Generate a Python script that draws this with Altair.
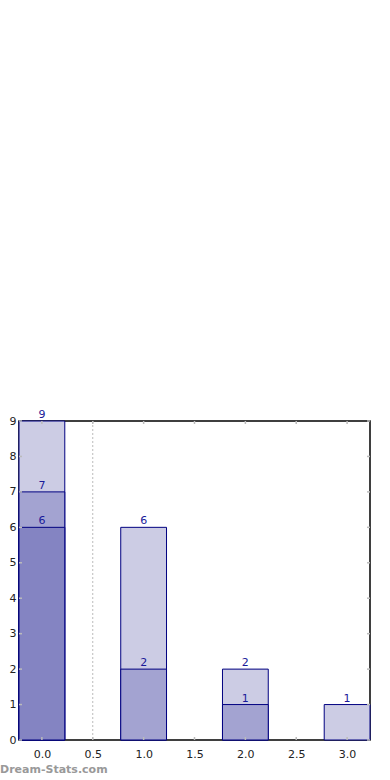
import altair as alt
import pandas as pd

positions = [0, 1, 2, 3]
light_vals = [9, 6, 2, 1]
medium_vals = [7, 2, 1, None]
dark_vals = [6, None, None, None]

rows = []
for lvl, vals in enumerate([light_vals, medium_vals, dark_vals]):
    for p, v in zip(positions, vals):
        if v is not None:
            rows.append({"pos": p, "value": v, "level": lvl})
df = pd.DataFrame(rows)

x_ticks = [0, 0.5, 1, 1.5, 2, 2.5, 3]
y_ticks = list(range(10))

W, H = 351, 319
FONT = "DejaVu Sans"
xscale = alt.Scale(domain=[-0.225, 3.225], nice=False, zero=False)
yscale = alt.Scale(domain=[0, 9], nice=False)

xaxis = alt.Axis(values=x_ticks, format=".1f", ticks=False, grid=False,
                 domain=False, labelPadding=8, labelFont=FONT,
                 labelFontSize=11, labelColor="#222222", title=None,
                 labelOverlap=False)
yaxis = alt.Axis(values=y_ticks, format="d", ticks=False, grid=False, domain=False,
                 labelPadding=3, labelFont=FONT, labelFontSize=11,
                 labelColor="#222222", title=None, labelOverlap=False,
                 labelFlush=False)

base = alt.Chart(df).transform_calculate(
    x1="datum.pos - 0.225", x2="datum.pos + 0.225"
)

bars = base.mark_bar(stroke="#000080", strokeWidth=1).encode(
    x=alt.X("x1:Q", scale=xscale, axis=xaxis),
    x2="x2:Q",
    y=alt.Y("value:Q", scale=yscale, axis=yaxis),
    y2=alt.datum(0),
    fill=alt.Color("level:O", legend=None,
                   scale=alt.Scale(domain=[0, 1, 2],
                                   range=["#cccce4", "#a3a3d1", "#8484c2"])),
    order=alt.Order("level:O"),
)

labels = base.mark_text(baseline="bottom", dy=-1, font=FONT, fontSize=11,
                        color="#1a1a99").encode(
    x=alt.X("pos:Q", scale=xscale, axis=xaxis),
    y=alt.Y("value:Q", scale=yscale, axis=yaxis),
    text=alt.Text("value:Q"),
)

vline = alt.Chart(pd.DataFrame({"v": [0.5]})).mark_rule(
    color="#bbbbbb", strokeDash=[2, 2], strokeWidth=1
).encode(x=alt.X("v:Q", scale=xscale, axis=xaxis))

xt = pd.DataFrame({"t": x_ticks})
yt = pd.DataFrame({"t": y_ticks})
tick_color = "#bbbbbb"
xtick_bottom = alt.Chart(xt).mark_rule(color=tick_color, strokeWidth=1.5).encode(
    x=alt.X("t:Q", scale=xscale, axis=xaxis), y=alt.value(H - 3), y2=alt.value(H))
xtick_top = alt.Chart(xt).mark_rule(color=tick_color, strokeWidth=1.5).encode(
    x=alt.X("t:Q", scale=xscale, axis=xaxis), y=alt.value(0), y2=alt.value(3))
ytick_left = alt.Chart(yt).mark_rule(color=tick_color, strokeWidth=1.5).encode(
    y=alt.Y("t:Q", scale=yscale, axis=yaxis), x=alt.value(0), x2=alt.value(3))
ytick_right = alt.Chart(yt).mark_rule(color=tick_color, strokeWidth=1.5).encode(
    y=alt.Y("t:Q", scale=yscale, axis=yaxis), x=alt.value(W - 3), x2=alt.value(W))

watermark = alt.Chart(pd.DataFrame({"t": ["Dream-Stats.com"]})).mark_text(
    align="left", baseline="middle", font=FONT, fontSize=11, fontWeight="bold",
    color="#999999", clip=False
).encode(x=alt.value(-19), y=alt.value(H + 30), text="t:N")

chart = alt.layer(
    bars, xtick_bottom, xtick_top, ytick_left, ytick_right, vline, labels, watermark
).properties(
    width=W, height=H,
    autosize=alt.AutoSizeParams(type="none"),
    padding={"left": 19, "top": 421, "right": 20, "bottom": 40},
).configure_view(stroke="black", strokeWidth=1.5)

chart.save("out.html", embed_options={"renderer": "svg", "actions": False})
